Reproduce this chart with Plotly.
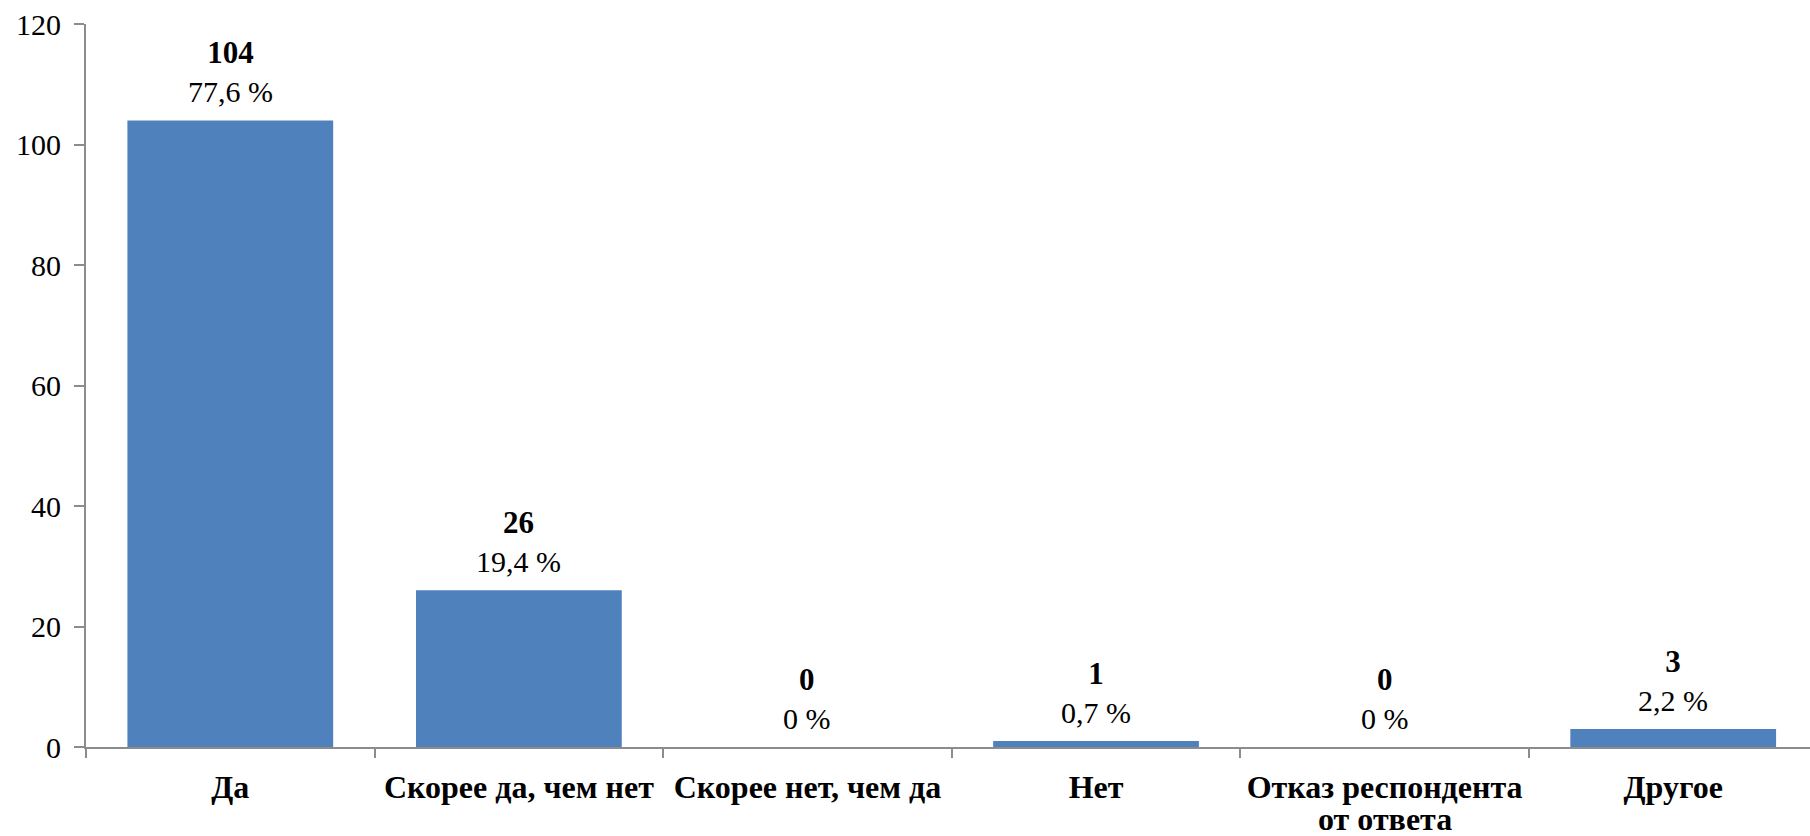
import plotly.graph_objects as go

categories = ["Да", "Скорее да, чем нет", "Скорее нет, чем да", "Нет", "Отказ респондента от ответа", "Другое"]
label_line1 = ["Да", "Скорее да, чем нет", "Скорее нет, чем да", "Нет", "Отказ респондента", "Другое"]
label_line2 = ["", "", "", "", "от ответа", ""]
counts = [104, 26, 0, 1, 0, 3]
percents = ["77,6 %", "19,4 %", "0 %", "0,7 %", "0 %", "2,2 %"]
y_ticks = [0, 20, 40, 60, 80, 100, 120]

FONT = "Liberation Serif, Times New Roman, serif"
AXIS = "#8c8c8c"

fig = go.Figure()
fig.add_trace(go.Bar(
    x=categories, y=counts,
    marker=dict(color="#4F81BD", line=dict(width=0)),
    width=0.713,
    hoverinfo="skip",
))

for c, v, p in zip(categories, counts, percents):
    fig.add_annotation(
        x=c, y=v, text=f"<b><span style='font-size:31px'>{v}</span></b><br>{p}",
        showarrow=False, yanchor="bottom", yshift=10,
        font=dict(family=FONT, size=30, color="black"),
        align="center",
    )

for c, l2 in zip(categories, label_line2):
    if l2:
        fig.add_annotation(
            x=c, xref="x", y=0, yref="paper", text=f"<b>{l2}</b>",
            showarrow=False, yanchor="top", yshift=-52,
            font=dict(family=FONT, size=32, color="black"),
        )

fig.update_layout(
    width=1810, height=836,
    margin=dict(l=86, r=0, t=24, b=89),
    plot_bgcolor="white", paper_bgcolor="white",
    showlegend=False,
    font=dict(family=FONT, color="black"),
)
fig.update_xaxes(
    range=[-0.5, 5.474],
    tickmode="array", tickvals=categories,
    ticktext=[f"<b>{t}</b>" for t in label_line1],
    showline=True, linecolor=AXIS, linewidth=2,
    ticks="outside", tickson="boundaries", ticklen=9, tickcolor=AXIS, tickwidth=1.5,
    tickfont=dict(family=FONT, size=32, color="black"),
    showgrid=False, zeroline=False, automargin=False,
    ticklabelstandoff=11,
)
fig.update_yaxes(
    range=[0, 120], tickvals=y_ticks,
    showline=True, linecolor=AXIS, linewidth=2,
    ticks="outside", ticklen=10, tickcolor=AXIS, tickwidth=1.5,
    tickfont=dict(family=FONT, size=30, color="black"),
    showgrid=False, zeroline=False, automargin=False,
    ticklabelstandoff=7,
)

fig.write_html(
    "out.html",
    config={"displayModeBar": False},
    post_script="document.body.style.margin='0px';document.body.style.overflow='hidden';",
)
